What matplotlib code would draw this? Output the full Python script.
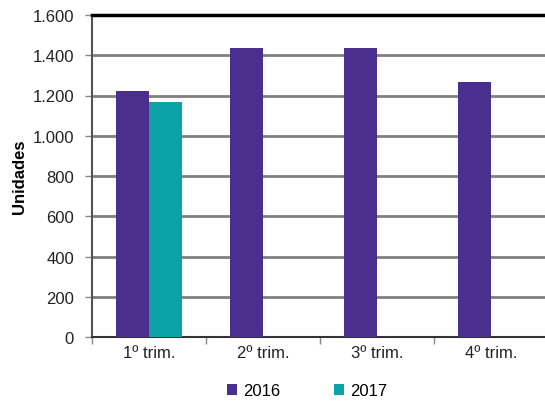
import numpy as np
import matplotlib.pyplot as plt
from matplotlib.ticker import FuncFormatter

plt.rcParams['font.family'] = ['Liberation Sans Narrow', 'Liberation Sans', 'DejaVu Sans']

categories = ['1º trim.', '2º trim.', '3º trim.', '4º trim.']
values_2016 = [1222, 1436, 1436, 1267]
values_2017 = [1167, 0, 0, 0]
series_names = ['2016', '2017']
colors = ['#4b2f8e', '#0ba3a7']

fig = plt.figure(figsize=(5.45, 4.02), dpi=100)
ax = fig.add_axes([92 / 545, 64 / 402, 456 / 545, 322 / 402])

x = np.arange(len(categories))
w = 0.29
ax.bar(x - w / 2, values_2016, w, color=colors[0], label=series_names[0], zorder=3)
ax.bar(x + w / 2, values_2017, w, color=colors[1], label=series_names[1], zorder=3)

ax.set_xlim(-0.5, 3.5)
ax.set_ylim(0, 1600)
ax.set_yticks(np.arange(0, 1601, 200))
ax.yaxis.set_major_formatter(FuncFormatter(lambda v, p: f'{int(v):,}'.replace(',', '.')))
ax.set_xticks(x)
ax.set_xticklabels(categories, fontsize=12, color='#222222')
ax.set_xticks(np.arange(-0.5, 3.6, 1), minor=True)
ax.tick_params(axis='x', which='major', length=0, pad=6)
ax.tick_params(axis='x', which='minor', length=5, color='#888888', width=1)
ax.tick_params(axis='y', length=5, color='#888888', width=1, labelsize=12,
               labelcolor='#222222', pad=8)

ax.grid(axis='y', color='#808080', linewidth=2, zorder=0)
ax.spines['top'].set_color('black')
ax.spines['top'].set_linewidth(2.5)
ax.spines['left'].set_color('#555555')
ax.spines['left'].set_linewidth(1.5)
ax.spines['bottom'].set_color('#333333')
ax.spines['bottom'].set_linewidth(1.5)
ax.spines['right'].set_visible(False)

ax.set_ylabel('Unidades', fontsize=12, fontweight='bold', labelpad=4)

fig.legend(loc='center', bbox_to_anchor=(307 / 545, 10 / 402), ncol=2, frameon=False,
           fontsize=12, handlelength=0.6, handleheight=0.6, handletextpad=0.4,
           columnspacing=3.2)

fig.savefig('out.png', dpi=100)
